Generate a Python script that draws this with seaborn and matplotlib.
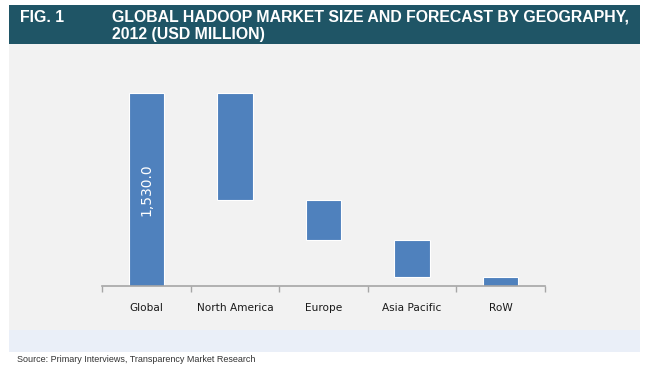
import numpy as np
import seaborn as sns
import matplotlib.pyplot as plt
from matplotlib.patches import Rectangle

# values (USD million, 2012)
regions = ["Global", "North America", "Europe", "Asia Pacific", "RoW"]
market_size = [1530.0, 850.0, 312.0, 294.0, 74.0]
global_label = "1,530.0"

fig_number = "FIG. 1"
title_lines = ["GLOBAL HADOOP MARKET SIZE AND FORECAST BY GEOGRAPHY,",
               "2012 (USD MILLION)"]
source_note = "Source: Primary Interviews, Transparency Market Research"

# waterfall: total starts at zero, each region hangs down from what is left
bottoms = [0.0]
remaining = market_size[0]
for v in market_size[1:]:
    remaining -= v
    bottoms.append(remaining)

W, H = 650, 376


def px_rect(x0, y0, x1, y1, color):
    """Rectangle in pixel coords (top-left origin) on the figure."""
    return Rectangle((x0 / W, 1 - y1 / H), (x1 - x0) / W, (y1 - y0) / H,
                     transform=fig.transFigure, facecolor=color,
                     edgecolor="none", zorder=-5)


sns.set_style("white")
plt.rcParams["font.family"] = ["DejaVu Sans"]

fig = plt.figure(figsize=(W / 100, H / 100), dpi=100)
fig.patches.append(px_rect(9, 5, 640, 44, "#1f5566"))
fig.patches.append(px_rect(9, 44, 640, 330, "#f2f2f2"))
fig.patches.append(px_rect(9, 330, 640, 352, "#eaeff8"))

ax = fig.add_axes([102 / W, 1 - 286 / H, 443 / W, 214 / H])
ax.patch.set_visible(False)

sns.barplot(x=regions, y=market_size, bottom=bottoms, color="#4f81bd",
            saturation=1, width=0.4, edgecolor="white", linewidth=0.8, ax=ax)

ax.text(0, market_size[0] / 2, global_label, rotation=90, color="white",
        ha="center", va="center", fontsize=10)

ax.set_xlim(-0.5, len(regions) - 0.5)
ax.set_ylim(0, 1700)
ax.set_yticks([])
ax.set_xlabel("")
ax.set_ylabel("")
for s in ["left", "top", "right"]:
    ax.spines[s].set_visible(False)
ax.spines["bottom"].set_color("#a6a6a6")
ax.spines["bottom"].set_linewidth(1.2)
ax.set_xticks(np.arange(-0.5, len(regions), 1), minor=True)
ax.tick_params(axis="x", which="major", length=0, pad=12, labelsize=7.6,
               labelcolor="#1a1a1a")
ax.tick_params(axis="x", which="minor", bottom=True, length=4, width=1,
               color="#a6a6a6", direction="out")

hdr = dict(color="white", fontweight="bold", fontsize=11.4, va="center",
           family=["Liberation Sans"])
fig.text(20 / W, 1 - 17 / H, fig_number, **hdr)
fig.text(112 / W, 1 - 17 / H, title_lines[0], **hdr)
fig.text(112 / W, 1 - 35 / H, title_lines[1], **hdr)

fig.text(17 / W, 1 - 360 / H, source_note, fontsize=6.5, color="#333333",
         va="center", family=["Liberation Sans"])

fig.savefig("out.png", dpi=100)
